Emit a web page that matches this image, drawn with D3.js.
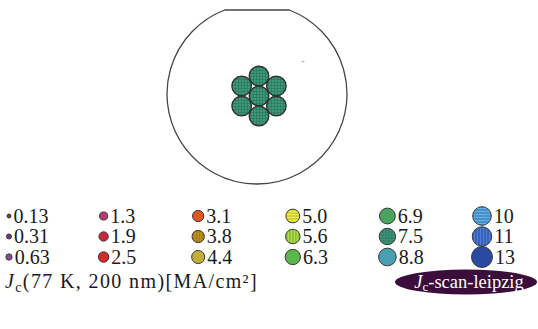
<!DOCTYPE html>
<html><head><meta charset="utf-8">
<script src="https://cdn.jsdelivr.net/npm/d3@7"></script>
<style>html,body{margin:0;padding:0;background:#fff;}svg{display:block;}</style>
</head><body>
<script>
// ---- data ----
const legendLabels = ["0.13","0.31","0.63","1.3","1.9","2.5","3.1","3.8","4.4","5.0","5.6","6.3","6.9","7.5","8.8","10","11","13"];
const legendValues = [0.13,0.31,0.63,1.3,1.9,2.5,3.1,3.8,4.4,5.0,5.6,6.3,6.9,7.5,8.8,10,11,13];
const legendColors = ["#5a3a6a","#6b3a7c","#8a4a96","#b83a72","#c8283e","#d42a2a","#e0541e","#c8961e","#c8b43c","#d2d23a","#8cbc3a","#5ab84a","#4ca862","#3a9a7c","#4aa6b6","#4a8ec6","#3a64b2","#2a4aa2"];
const legendHatch = ["none","none","none","none","none","none","none","grid","diag","horiz","vert","none","diag","grid","diag","horiz","vert","none"];
const filamentJc = [7.5,7.5,7.5,7.5,7.5,7.5,7.5]; // center + 6 around
const axisTitle = "(77 K, 200 nm)[MA/cm²]";
const tagText = "-scan-leipzig";

const W = 538, H = 329;
const svg = d3.select("body").append("svg").attr("width", W).attr("height", H);
const defs = svg.append("defs");

// hatch patterns
function makePattern(id, color, kind){
  const p = defs.append("pattern").attr("id", id).attr("patternUnits","userSpaceOnUse")
    .attr("width", 3).attr("height", 3);
  p.append("rect").attr("width",3).attr("height",3).attr("fill", color);
  const ln = d3.color(color).brighter(0.9).formatHex();
  const dk = d3.color(color).darker(0.8).formatHex();
  if (kind === "grid" || kind === "horiz") p.append("line").attr("x1",0).attr("x2",3).attr("y1",1.5).attr("y2",1.5).attr("stroke",kind==="grid"?dk:ln).attr("stroke-width",0.7);
  if (kind === "grid" || kind === "vert") p.append("line").attr("y1",0).attr("y2",3).attr("x1",1.5).attr("x2",1.5).attr("stroke",kind==="grid"?dk:ln).attr("stroke-width",0.7);
  if (kind === "diag") p.append("path").attr("d","M0,3L3,0").attr("stroke",d3.color(color).darker(0.5)).attr("stroke-width",0.6);
}
legendColors.forEach((c,i)=>{ if(legendHatch[i]!=="none") makePattern("pat"+i, c, legendHatch[i]); });
const fillOf = i => legendHatch[i]==="none" ? legendColors[i] : `url(#pat${i})`;
const colorIndex = v => legendValues.indexOf(v);

// ---- sample drawing ----
const cx = 257, cy = 94, R = 90, chordY = 10;
const half = Math.sqrt(R*R - (cy-chordY)*(cy-chordY));
const a0 = Math.atan2(chordY-cy, half), a1 = Math.atan2(chordY-cy, -half);
const p = d3.path();
p.moveTo(cx - half, chordY);
p.lineTo(cx + half, chordY);
p.arc(cx, cy, R, a0, a1 + 2*Math.PI, false);
svg.append("path").attr("d", p.toString()).attr("fill","none").attr("stroke","#4a4444").attr("stroke-width",1.3);

// small mark
svg.append("text").attr("x",303).attr("y",64).attr("text-anchor","middle").attr("font-size",7).attr("fill","#999").text("+");

// filaments: hexagonal bundle
const fr = 9.8, pitch = 20;
const angle = d3.scaleLinear().domain([0,6]).range([-Math.PI/2, 3*Math.PI/2]);
const fil = filamentJc.map((v,i)=> i===0 ? {v, x:cx+2, y:96} :
   {v, x: cx+2 + pitch*Math.cos(angle(i-1)), y: 96 + pitch*Math.sin(angle(i-1))});
svg.append("g").selectAll("circle").data(fil).join("circle")
  .attr("cx",d=>d.x).attr("cy",d=>d.y).attr("r",fr)
  .attr("fill",d=>fillOf(colorIndex(d.v))).attr("stroke","#333").attr("stroke-width",1.4);

// ---- legend ----
const rScale = d3.scaleSqrt().domain([0.13, 13]).range([2, 10.5]);
const colX = d3.scalePoint().domain(d3.range(6)).range([9, 482]);
const rowY = d3.scalePoint().domain(d3.range(3)).range([216, 257]);
const font = "'Liberation Serif', 'DejaVu Serif', serif";
const lg = svg.append("g");
const items = legendValues.map((v,i)=>({v, i, col: Math.floor(i/3), row: i%3}));
const it = lg.selectAll("g").data(items).join("g")
  .attr("transform", d=>`translate(${colX(d.col)},${rowY(d.row)})`);
it.append("circle").attr("r", d=>rScale(d.v)).attr("fill", d=>fillOf(d.i))
  .attr("stroke","#3a3a3a").attr("stroke-width",1);
it.append("text").attr("x", d=>rScale(d.v)+2.5).attr("y", 6.5)
  .attr("font-family", font).attr("font-size", 20).attr("fill","#1a1a1a")
  .text(d=>legendLabels[d.i]);

// axis title
const t = svg.append("text").attr("x",5).attr("y",288).attr("font-family",font).attr("font-size",20).attr("fill","#1a1a1a");
t.append("tspan").attr("font-style","italic").text("J");
t.append("tspan").attr("font-size",14).attr("dy",4).text("c");
t.append("tspan").attr("dy",-4).text(axisTitle);
// stretch spacing to match TeX-like width
const tw = t.node().getComputedTextLength();
const nch = ("Jc" + axisTitle).length;
t.attr("letter-spacing", Math.max(0, (253 - tw) / nch));

// tag ellipse
svg.append("ellipse").attr("cx",466).attr("cy",282).attr("rx",71).attr("ry",12.5).attr("fill","#3a0d3a");
const tt = svg.append("text").attr("x",469).attr("y",287.5).attr("text-anchor","middle")
  .attr("font-family",font).attr("font-size",18.5).attr("fill","#fff");
tt.append("tspan").attr("font-style","italic").text("J");
tt.append("tspan").attr("font-size",13).attr("dy",3).text("c");
tt.append("tspan").attr("dy",-3).text(tagText);
</script>
</body></html>
